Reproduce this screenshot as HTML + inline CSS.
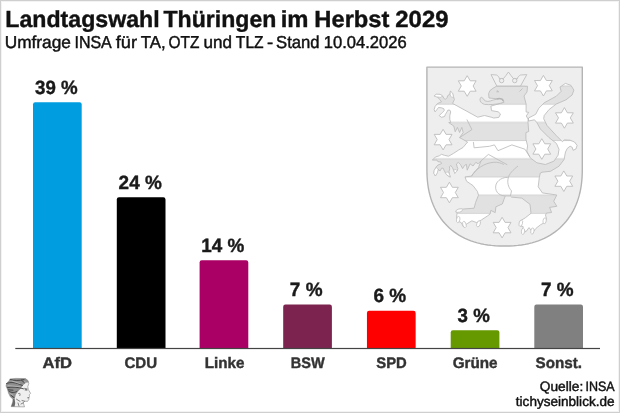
<!DOCTYPE html>
<html lang="de">
<head>
<meta charset="utf-8">
<title>Landtagswahl Thüringen im Herbst 2029</title>
<style>
html,body{margin:0;padding:0;background:#fff;}
body{width:620px;height:413px;overflow:hidden;}
svg{display:block;}
text{font-family:"Liberation Sans","DejaVu Sans",sans-serif;text-rendering:geometricPrecision;}
</style>
</head>
<body>
<svg width="620" height="413" viewBox="0 0 620 413">
<rect x="0.5" y="0.5" width="619" height="412" fill="#fff" stroke="#cfcfcf" stroke-width="1"/>
<rect x="1.5" y="1.5" width="617" height="410" fill="none" stroke="#f3f3f3" stroke-width="1"/>

<!-- coat of arms -->
<g id="shield" stroke-linejoin="round">
<defs><pattern id="st" patternUnits="userSpaceOnUse" x="0" y="86" width="300" height="36.38"><rect width="300" height="18.19" fill="#e1e1e1"/><rect y="18.19" width="300" height="18.19" fill="#fff"/><rect y="-0.5" width="300" height="1" fill="#d2d2d2"/><rect y="17.69" width="300" height="1" fill="#d2d2d2"/><rect y="35.88" width="300" height="1" fill="#d2d2d2"/></pattern></defs>
<path d="M426.9 67.15H582.3L582.30 168.30L582.24 173.40L582.04 177.61L581.72 181.53L581.27 185.25L580.70 188.83L579.99 192.29L579.16 195.63L578.21 198.87L577.13 202.00L575.93 205.04L574.61 207.98L573.16 210.83L571.60 213.57L569.93 216.22L568.13 218.76L566.23 221.21L564.21 223.55L562.08 225.78L559.85 227.91L557.51 229.93L555.06 231.83L552.52 233.63L549.87 235.30L547.13 236.86L544.28 238.31L541.34 239.63L538.30 240.83L535.17 241.91L531.93 242.86L528.59 243.69L525.13 244.40L521.55 244.97L517.83 245.42L513.91 245.74L509.70 245.94L504.60 246.00L499.50 245.94L495.29 245.74L491.37 245.42L487.65 244.97L484.07 244.40L480.61 243.69L477.27 242.86L474.03 241.91L470.90 240.83L467.86 239.63L464.92 238.31L462.07 236.86L459.33 235.30L456.68 233.63L454.14 231.83L451.69 229.93L449.35 227.91L447.12 225.78L444.99 223.55L442.97 221.21L441.07 218.76L439.27 216.22L437.60 213.57L436.04 210.83L434.59 207.98L433.27 205.04L432.07 202.00L430.99 198.87L430.04 195.63L429.21 192.29L428.50 188.83L427.93 185.25L427.48 181.53L427.16 177.61L426.96 173.40L426.90 168.30Z" fill="#eeeeee" stroke="#b4b4b4" stroke-width="1.4"/>
<g stroke="#bcbcbc" stroke-width="0.85">
<polygon fill="url(#st)" points="496.8,86 493,88.3 490,90.5 488.6,93.5 489,98 497,98.8 502.7,99.3 503.9,102.2 500.5,103.3 490.9,106.1 491.5,110.6 498.2,111.8 500.5,114 498.8,117.4 493.7,118 491.2,117.2 484.5,115.5 477.7,117.2 452.5,103.4 454.4,99.5 453.5,96.7 452.5,93.1 450.4,91.2 449.8,94.4 447.9,95.4 447,97.7 445.2,99.5 443.8,98.1 442.4,95.8 440.1,94.4 436.4,94.3 434.1,95.8 437.5,97 439.7,99.5 441.5,101.8 437.4,103.6 435.1,106.4 434.1,109.6 435.1,111.9 436.9,109.6 438.5,107.5 441.5,107.8 443.8,108.7 444.3,110.5 442.4,112.4 439.2,115.6 441.5,117.3 444.7,116.5 445.2,114.7 447,111.9 447.9,110.1 449.8,110.1 450.7,111.9 449.8,115.6 449.8,119.3 450.7,122.5 448.7,122.6 453.8,126 455.2,131.8 457.4,127.4 459.6,132.5 461.8,127.4 463.2,132.5 459.6,137.6 467.6,142 463,147.5 458.7,150 453.3,153.5 448.6,156.2 444.7,155.4 441.6,154.3 439.3,155.8 435.4,157 432.3,160.1 437,160.1 437.8,161.6 440.9,162 441.6,163.6 437.8,165.1 436.2,167 434.3,170.2 433.9,173.3 435.4,176 437.4,172.5 438.1,169.4 440.1,170.9 441.6,168.2 443.2,168.2 444.3,170.9 446.7,174.8 450.2,177.1 449.4,174 449,171.3 449.8,169 449.4,166.7 450.9,165.5 452.5,167.8 453.6,170.2 454.8,173.3 457.1,170.9 457.9,168.6 457.1,166.7 456.4,164 458.3,162.4 460.6,164.7 462.6,168.6 464.5,165.5 466.4,164.3 467.2,170.2 470.1,163.8 473,166 475.9,162.3 478.1,163.8 481,160.9 478.5,167.5 474.5,172 471.5,176.1 465,176.9 466.5,181.2 473,185.6 477.4,191.4 478.5,195.2 475.6,202.4 474.1,208.2 463.2,209 458,209.5 455.8,211.8 457,213.5 456.6,217 457.4,220.8 461.3,222.7 463.2,226.6 467.1,223.7 471.9,220.8 476.8,222.7 481.6,219.8 487.4,216 490.1,214 490.8,210.4 495.2,212.6 495.9,206.8 502.4,203.9 503.9,199.5 505.3,195.9 510.4,196 511.5,197.1 521.8,198.1 530,204.3 531,213.3 525.2,217.9 520.3,220.8 519.4,225.6 523.2,226.6 522.3,232.4 526.1,231.5 529,227.6 532.9,232.4 535.8,228.5 540.6,224.7 544.5,222.7 546.5,218.9 545.5,215 546.5,213.1 551.6,212.5 549.6,207.4 556.8,206.3 553.7,201.2 556.8,195 542.4,192.9 538.2,186.8 539.3,177.5 540.3,173 542,172.2 550.5,171.3 559,166.2 564.1,159.5 564.9,155 565.5,152 567.2,148.5 570.1,146.2 572.3,147.4 573,150.3 575.9,149 577.1,145.4 574.5,142 570.1,140.2 564.3,139.9 562.4,141.7 556.4,135.7 547.1,125.6 543.7,118.8 544.2,115.5 549.1,109.5 556.3,104 566,99.8 572.1,95 573.9,90.1 570.9,85.3 565.4,83.4 560,87.1 561.2,91.3 556.3,96.2 544.2,102.8 538.8,108.3 535.7,114.3 528.5,118 528.5,121 534.5,119.8 537,122.8 540.3,128.9 548.8,137.4 556.4,143.4 559,149.3 558.1,155.2 553.9,161.2 545.4,164.5 536.9,162.8 530.2,157.8 526.8,151 527.6,145.9 525.9,139.1 525.9,132.6 528.7,131.5 528,122.5 528.1,119.1 526.3,116 528.7,112.3 526.1,112 526.1,104 524,96 527,92 527.5,86.3 520.5,86"/>
<path fill="#f1f1f1" d="M491 74.6L496.5 75C498.5 76 499.3 77.5 499.5 79L503.5 78.5C505 76.5 507 74.5 508.400 72C510 74.5 512 76.500 513.300 78.500L517.300 79C517.500 77.500 518.500 76 520.500 75L526.800 74.600L520.500 86H496.800Z"/>
<circle cx="501.6" cy="80.6" r="2.2" fill="#eee"/><circle cx="514.7" cy="80.6" r="2.2" fill="#eee"/>
<g fill="#fff" stroke-width="0.6"><polygon points="434.1,95.8 436.4,94.3 440.1,94.4 442.4,95.8 441,97.3 436,96.8"/><polygon points="450.4,91.2 452.5,93.1 453.5,96.7 451.8,97.5 450.2,95"/><polygon points="436.2,167.4 434.3,170.2 433.9,173.3 435.4,176 437.4,172.5 438.1,169.4"/><polygon points="445.1,172.5 446.7,174.8 450.2,177.1 449.4,174 448,172"/><polygon points="453.6,170.2 454.8,173.3 457.1,170.9 456,169.5"/></g>
<g fill="#fff" stroke-width="0.7"><ellipse cx="458.2" cy="219.5" rx="1.7" ry="3.2" transform="rotate(10 458.2 219.5)"/><ellipse cx="464.4" cy="224.5" rx="1.7" ry="3.2" transform="rotate(-15 464.4 224.5)"/><ellipse cx="478.5" cy="223.8" rx="1.7" ry="3.2" transform="rotate(20 478.5 223.8)"/><ellipse cx="459.2" cy="210.6" rx="3.4" ry="1.6" transform="rotate(-15 459.2 210.6)"/><ellipse cx="520.8" cy="223.2" rx="1.7" ry="3.2" transform="rotate(15 520.8 223.2)"/><ellipse cx="523" cy="231.3" rx="1.6" ry="3.2" transform="rotate(5 523 231.3)"/><ellipse cx="532.4" cy="231" rx="1.6" ry="3.2" transform="rotate(10 532.4 231)"/><ellipse cx="544.6" cy="220.8" rx="1.6" ry="3" transform="rotate(10 544.6 220.8)"/></g>
<path fill="#e6e6e6" d="M481.3 97.1C479 99 479.5 103 484.7 104.4C490 105 496 104.300 500.500 103.300L503.900 102.200L502.700 99.300C499 98.500 494 99.500 490.300 101C487 102 484 101 483.500 98.800Z"/>
<path fill="none" stroke="#b4b4b4" stroke-width="1.4" d="M496.500 99.200C499 98 502 98.500 503.300 100.800"/>
<path fill="none" d="M497 90.200L498.300 91.800M496.300 91.900L499 91.700M519.500 91.500L522.500 88.500"/>
<path fill="none" d="M466.900 119.500L471.900 129.600L459.600 137.600M473.400 142L474.100 147.800L489.400 146.300L494.400 144.900L498 150.700L511.900 144.900L524.900 149.200L530 157.200M481 160.900L488.400 154.400L507.300 164.800M471.500 176.100C476 169 484 163 493.700 162.300C498 162 501 163 503.900 164.500M508.400 177.500C507 182 508 187 511.500 190.900L510.400 196M505.300 195.900C498 196 494 190 496.200 184C499 178 506 177 508.400 177.500M518 166C513 170 509 174 508.400 177.500"/>
<g fill="#fff" stroke="#bcbcbc" stroke-width="0.9">
<polygon points="467.2,75.7 470.2,80.8 476.1,80.8 473.1,86.0 476.1,91.2 470.2,91.2 467.2,96.3 464.2,91.2 458.3,91.2 461.3,86.0 458.3,80.8 464.2,80.8"/>
<polygon points="543.4,75.4 546.4,80.5 552.3,80.5 549.3,85.7 552.3,90.8 546.4,90.9 543.4,96.0 540.4,90.9 534.5,90.9 537.5,85.7 534.5,80.5 540.4,80.6"/>
<polygon points="564.4,107.6 567.4,112.8 573.3,112.8 570.3,117.9 573.3,123.1 567.4,123.1 564.4,128.2 561.4,123.1 555.5,123.1 558.5,117.9 555.5,112.8 561.4,112.8"/>
<polygon points="443.1,129.3 446.1,134.4 452.0,134.4 449.0,139.6 452.0,144.8 446.1,144.8 443.1,149.9 440.1,144.8 434.2,144.8 437.2,139.6 434.2,134.4 440.1,134.4"/>
<polygon points="541.8,138.7 544.8,143.8 550.7,143.8 547.7,149.0 550.7,154.2 544.8,154.2 541.8,159.3 538.8,154.2 532.9,154.2 535.9,149.0 532.9,143.8 538.8,143.8"/>
<polygon points="449.4,182.2 452.4,187.3 458.3,187.3 455.3,192.5 458.3,197.7 452.4,197.7 449.4,202.8 446.4,197.7 440.5,197.7 443.5,192.5 440.5,187.3 446.4,187.3"/>
<polygon points="502.1,217.3 505.1,222.4 511.0,222.4 508.0,227.6 511.0,232.8 505.1,232.8 502.1,237.9 499.1,232.8 493.2,232.8 496.2,227.6 493.2,222.4 499.1,222.4"/>
<polygon points="563.8,170.9 566.8,176.0 572.7,176.0 569.7,181.2 572.7,186.3 566.8,186.3 563.8,191.5 560.8,186.3 554.9,186.3 557.9,181.2 554.9,176.0 560.8,176.0"/>
</g></g></g>

<!-- title -->
<text font-size="23.25" font-weight="bold" fill="#111" stroke="#111" stroke-width="0.4"><tspan x="5.35" y="27.0" textLength="154.28" lengthAdjust="spacingAndGlyphs">Landtagswahl</tspan> <tspan x="163.51" y="27.0" textLength="112.82" lengthAdjust="spacingAndGlyphs">Thüringen</tspan> <tspan x="280.73" y="27.0" textLength="27.8" lengthAdjust="spacingAndGlyphs">im</tspan> <tspan x="314.33" y="27.0" textLength="75.09" lengthAdjust="spacingAndGlyphs">Herbst</tspan> <tspan x="395.31" y="27.0" textLength="53.21" lengthAdjust="spacingAndGlyphs">2029</tspan></text>
<text font-size="17.3" fill="#111" stroke="#111" stroke-width="0.45"><tspan x="4.69" y="47.9" textLength="66.2" lengthAdjust="spacingAndGlyphs">Umfrage</tspan> <tspan x="74.47" y="47.9" textLength="36.44" lengthAdjust="spacingAndGlyphs">INSA</tspan> <tspan x="115.76" y="47.9" textLength="21.27" lengthAdjust="spacingAndGlyphs">für</tspan> <tspan x="140.7" y="47.9" textLength="24.94" lengthAdjust="spacingAndGlyphs">TA,</tspan> <tspan x="168.57" y="47.9" textLength="31.0" lengthAdjust="spacingAndGlyphs">OTZ</tspan> <tspan x="203.58" y="47.9" textLength="28.51" lengthAdjust="spacingAndGlyphs">und</tspan> <tspan x="235.85" y="47.9" textLength="27.76" lengthAdjust="spacingAndGlyphs">TLZ</tspan> <tspan x="266.94" y="47.9" textLength="6.23" lengthAdjust="spacingAndGlyphs">-</tspan> <tspan x="276.07" y="47.9" textLength="43.55" lengthAdjust="spacingAndGlyphs">Stand</tspan> <tspan x="323.72" y="47.9" textLength="82.94" lengthAdjust="spacingAndGlyphs">10.04.2026</tspan></text>

<!-- bars -->
<g id="bars">
<path d="M33.00 348.6V104.45a2.2 2.2 0 0 1 2.2 -2.2h44.30a2.2 2.2 0 0 1 2.2 2.2V348.6z" fill="#009ee0"/>
<path d="M116.80 348.6V199.45a2.2 2.2 0 0 1 2.2 -2.2h44.30a2.2 2.2 0 0 1 2.2 2.2V348.6z" fill="#000000"/>
<path d="M199.60 348.6V262.40a2.2 2.2 0 0 1 2.2 -2.2h44.30a2.2 2.2 0 0 1 2.2 2.2V348.6z" fill="#aa0065"/>
<path d="M283.20 348.6V306.75a2.2 2.2 0 0 1 2.2 -2.2h44.30a2.2 2.2 0 0 1 2.2 2.2V348.6z" fill="#7c244f"/>
<path d="M366.95 348.6V313.00a2.2 2.2 0 0 1 2.2 -2.2h44.30a2.2 2.2 0 0 1 2.2 2.2V348.6z" fill="#ff0000"/>
<path d="M450.70 348.6V332.40a2.2 2.2 0 0 1 2.2 -2.2h44.30a2.2 2.2 0 0 1 2.2 2.2V348.6z" fill="#669900"/>
<path d="M534.30 348.6V306.75a2.2 2.2 0 0 1 2.2 -2.2h44.30a2.2 2.2 0 0 1 2.2 2.2V348.6z" fill="#808080"/>
</g>
<rect x="15.3" y="347.9" width="584.7" height="1.2" fill="#444"/>

<!-- values -->
<text x="35.09" y="93.8" font-size="19.2" font-weight="bold" fill="#1a1a1a" stroke="#1a1a1a" stroke-width="0.4" textLength="42.61" lengthAdjust="spacingAndGlyphs">39 %</text>
<text x="118.62" y="188.8" font-size="19.2" font-weight="bold" fill="#1a1a1a" stroke="#1a1a1a" stroke-width="0.4" textLength="43.15" lengthAdjust="spacingAndGlyphs">24 %</text>
<text x="201.37" y="251.9" font-size="19.2" font-weight="bold" fill="#1a1a1a" stroke="#1a1a1a" stroke-width="0.4" textLength="42.95" lengthAdjust="spacingAndGlyphs">14 %</text>
<text x="289.87" y="296.15" font-size="19.2" font-weight="bold" fill="#1a1a1a" stroke="#1a1a1a" stroke-width="0.4" textLength="32.65" lengthAdjust="spacingAndGlyphs">7 %</text>
<text x="373.58" y="302.3" font-size="19.2" font-weight="bold" fill="#1a1a1a" stroke="#1a1a1a" stroke-width="0.4" textLength="32.65" lengthAdjust="spacingAndGlyphs">6 %</text>
<text x="457.58" y="322.0" font-size="19.2" font-weight="bold" fill="#1a1a1a" stroke="#1a1a1a" stroke-width="0.4" textLength="32.15" lengthAdjust="spacingAndGlyphs">3 %</text>
<text x="541.05" y="296.15" font-size="19.2" font-weight="bold" fill="#1a1a1a" stroke="#1a1a1a" stroke-width="0.4" textLength="32.58" lengthAdjust="spacingAndGlyphs">7 %</text>

<!-- labels -->
<text x="42.48" y="368.3" font-size="15.25" font-weight="bold" fill="#333" stroke="#333" stroke-width="0.4" textLength="29.46" lengthAdjust="spacingAndGlyphs">AfD</text>
<text x="124.47" y="368.3" font-size="15.25" font-weight="bold" fill="#333" stroke="#333" stroke-width="0.4" textLength="32.66" lengthAdjust="spacingAndGlyphs">CDU</text>
<text x="204.68" y="368.3" font-size="15.25" font-weight="bold" fill="#333" stroke="#333" stroke-width="0.4" textLength="39.71" lengthAdjust="spacingAndGlyphs">Linke</text>
<text x="290.77" y="368.3" font-size="15.25" font-weight="bold" fill="#333" stroke="#333" stroke-width="0.4" textLength="33.92" lengthAdjust="spacingAndGlyphs">BSW</text>
<text x="376.29" y="368.3" font-size="15.25" font-weight="bold" fill="#333" stroke="#333" stroke-width="0.4" textLength="30.48" lengthAdjust="spacingAndGlyphs">SPD</text>
<text x="452.64" y="368.3" font-size="15.25" font-weight="bold" fill="#333" stroke="#333" stroke-width="0.4" textLength="44.94" lengthAdjust="spacingAndGlyphs">Grüne</text>
<text x="535.54" y="368.3" font-size="15.25" font-weight="bold" fill="#333" stroke="#333" stroke-width="0.4" textLength="46.51" lengthAdjust="spacingAndGlyphs">Sonst.</text>

<!-- source -->
<text font-size="13.5" fill="#111" stroke="#111" stroke-width="0.45"><tspan x="539.85" y="391.15" textLength="43.4" lengthAdjust="spacingAndGlyphs">Quelle:</tspan> <tspan x="585.48" y="391.15" textLength="29.13" lengthAdjust="spacingAndGlyphs">INSA</tspan></text>
<text x="515.83" y="405.55" font-size="13.5" font-weight="normal" fill="#111" stroke="#111" stroke-width="0.45" textLength="98.7" lengthAdjust="spacingAndGlyphs">tichyseinblick.de</text>

<!-- logo -->
<g id="logo" stroke-linejoin="round" stroke-linecap="round" fill="none">
<path d="M10.2 379L16 378.4L25.5 378.6L28 380.6L28.8 383.5L27.8 386.5L28.300 389.500L30.600 393.400L29.200 394.800L29.500 396.600L28.600 397.800L29 399.200L27.500 401.400L24.500 401.200L23.300 402.800L24.500 406.900L11.200 406.600L12.800 402L13 399L10.500 397L8.500 393L7.500 389L6 386L6.800 383L8.800 381.200Z" fill="#efefef" stroke="#7a7a7a" stroke-width="0.55"/>
<path d="M10.200 379L16 378.400L25.500 378.600L28 380.600L28.600 382.300L25.200 383.300L22.600 385.600L20.800 388.500L18 391.500L15.800 394.500L14.800 398.500L13 399L10.500 397L8.500 393L7.500 389L6 386L6.800 383L8.800 381.200Z" fill="#8e8e8e"/>
<path d="M11.200 406.500L12.800 402L13 399L14.600 398.800L15.200 403L14.600 406.600Z" fill="#6a6a6a"/>
<path d="M6.500 383.600C10 382 15 381.800 22.500 385.600M7.200 387.700C12 386.600 18 387 23.500 388.800M10.500 379.500C14 380.800 19 380.800 24 379.600M9 391.300C11.500 393 15 393 17 391.200M10.800 395.200L14 397.600M21.500 380.200L24.500 382.800M8.200 389.800L13 390.200" stroke="#3d3d3d" stroke-width="0.9"/>
<path d="M8 385.600L20 386.800M12 381L20 383.600M24.500 381.800L27.300 382.600M10 393.500L13 395" stroke="#c4c4c4" stroke-width="0.700"/>
<path d="M24.600 388.400L27.200 389M25 390L27 390.200M25.600 389.500L26.600 389.600M18.500 393.500C19.600 392.600 20.800 393.600 19.800 395.600M27.600 397.800L29 397.700M16.500 399.200L20 401.400M24.500 401.200L22 400.500M23.300 402.800L21 404M18 403L19 406" stroke="#555" stroke-width="0.700"/>
</g>
</svg>
</body>
</html>
